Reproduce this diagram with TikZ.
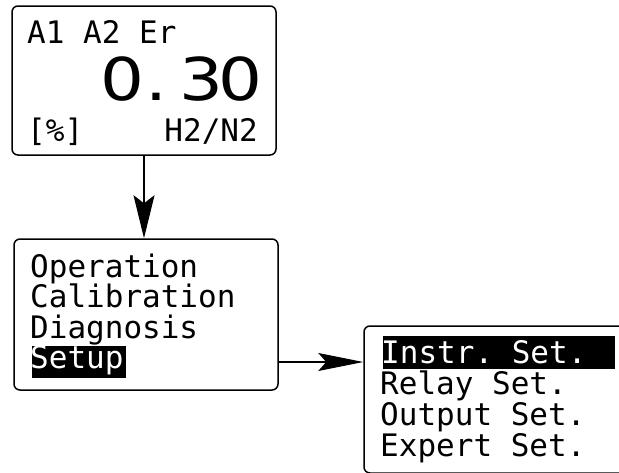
\documentclass[tikz,border=0pt]{standalone}
\usepackage{fontspec}
\setmonofont{DejaVu Sans Mono}
\newfontfamily\bignum[FakeStretch=1.17]{DejaVu Sans}
\usetikzlibrary{arrows.meta}
\begin{document}
\begin{tikzpicture}[x=1pt,y=-1pt,
  panel/.style={draw,line width=1.5pt,rounded corners=6pt,inner sep=0pt},
  lcd/.style={font=\fontsize{31}{31}\ttfamily,inner sep=0pt,anchor=base west},
  big/.style={font=\bignum\fontsize{59}{59}\selectfont,inner sep=0pt},
  sel/.style={fill=black,inner sep=0pt},
  link/.style={line width=1.5pt}]
\useasboundingbox (0,0) rectangle (619,472);
\clip (0,0) rectangle (619,472);
% display panels
\node[panel,minimum width=264pt,minimum height=149pt] (b1) at (144,80.5) {};
\node[panel,minimum width=264pt,minimum height=151pt] (b2) at (146,314.5) {};
\node[panel,minimum width=276pt,minimum height=147pt] (b3) at (502,399.5) {};
% measurement screen
\node[lcd] (hdr) at (27,43) {A1 A2 Er};
\node[big,anchor=base west] (val) at (100.5,100) {0\kern0.5pt.\kern12.9pt3\kern-5pt0};
\node[lcd] (unit) at (27,141) {[\%]};
\node[lcd,anchor=base east] (gas) at (258,141) {H2/N2};
% main menu
\node[lcd] (m1) at (30,277) {Operation};
\node[lcd] (m2) at (30,307.5) {Calibration};
\node[lcd] (m3) at (30,338) {Diagnosis};
\node[sel,minimum width=94pt,minimum height=32pt] (setup) at (79,362) {};
\node[lcd,text=white] (m4) at (30,368.5) {Setup};
% setup submenu
\node[sel,minimum width=232pt,minimum height=33pt] (instr) at (499,352.5) {};
\node[lcd,text=white] (s1) at (381,363) {Instr. Set.};
\node[lcd] (s2) at (380,394) {Relay Set.};
\node[lcd] (s3) at (380,425) {Output Set.};
\node[lcd] (s4) at (380,456) {Expert Set.};
% connectors
\draw[link,-{Stealth[length=43pt,width=21pt,inset=8pt]}] (b1.south) -- (b1.south |- b2.north);
\draw[link,-{Stealth[length=45pt,width=18pt,inset=8pt]}] (b2.east |- setup) -- (b3.west |- setup);
\end{tikzpicture}
\end{document}
